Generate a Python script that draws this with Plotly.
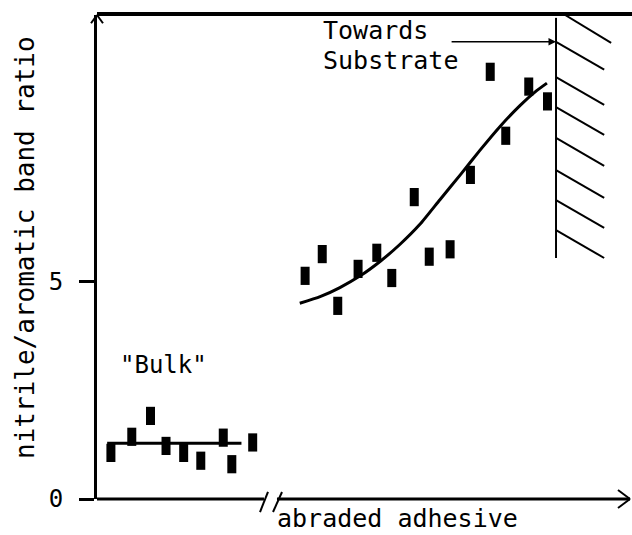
import plotly.graph_objects as go

# ---- data ----
bulk_x = [2.6, 6.5, 10.0, 12.9, 16.2, 19.4, 23.6, 25.2, 29.1]
bulk_y = [1.06, 1.43, 1.91, 1.22, 1.06, 0.88, 1.41, 0.80, 1.30]
bulk_fit_x = [1.9, 27.0]
bulk_fit_y = [1.28, 1.28]

adh_x = [38.9, 42.1, 45.0, 48.8, 52.3, 55.1, 59.3, 62.1, 66.0, 69.8, 73.5, 76.4, 80.7, 84.2]
adh_y = [5.13, 5.63, 4.44, 5.29, 5.66, 5.08, 6.94, 5.57, 5.74, 7.45, 9.82, 8.35, 9.48, 9.14]

fit_x = [37.9, 41.7, 45.4, 49.2, 52.9, 56.6, 60.4, 64.1, 67.9, 71.6, 75.3, 79.1, 81.9, 84.1]
fit_y = [4.50, 4.65, 4.86, 5.13, 5.46, 5.85, 6.32, 6.88, 7.45, 8.02, 8.56, 9.05, 9.36, 9.56]

y_ticks = [0, 5]
y_ticktext = ["0", "5"]
y_max = 11.126
x_max = 100

wall_x = 85.8
wall_y = [5.54, 11.06]
arrow_tail_x = 66.0
arrow_y = 10.51
hatch_starts = [10.51, 9.70, 9.01, 8.30, 7.56, 6.87, 6.18]
hatch_dx, hatch_dy = 9.0, -0.64

FONT = "DejaVu Sans Mono"
marker_style = dict(symbol="line-ns", size=13, line=dict(width=9, color="black"), color="black")

fig = go.Figure()
fig.add_trace(go.Scatter(x=bulk_fit_x, y=bulk_fit_y, mode="lines",
                         line=dict(color="black", width=3), hoverinfo="skip"))
fig.add_trace(go.Scatter(x=fit_x, y=fit_y, mode="lines",
                         line=dict(color="black", width=3, shape="spline", smoothing=0.5),
                         hoverinfo="skip"))
fig.add_trace(go.Scatter(x=bulk_x, y=bulk_y, mode="markers", marker=marker_style))
fig.add_trace(go.Scatter(x=adh_x, y=adh_y, mode="markers", marker=marker_style))

shapes = []
def pline(x0, y0, x1, y1, w=3, ref="paper"):
    xr = "paper" if ref == "paper" else "x"
    yr = "paper" if ref == "paper" else "y"
    shapes.append(dict(type="line", xref=xr, yref=yr, x0=x0, y0=y0, x1=x1, y1=y1,
                       line=dict(color="black", width=w), layer="above"))

# frame: top border, y-axis arrow cap, broken x-axis with arrow
pline(0, 1.002, 1, 1.002, w=4)
pline(-0.0112, 0.983, 0, 1.0, w=2)
pline(0, 1.0, 0.0112, 0.983, w=2)
pline(0, 0, 0.3121, 0, w=3)
pline(0.3364, 0, 0.9963, 0, w=3)
pline(0.3047, -0.0269, 0.3196, 0.0145, w=2)
pline(0.3290, -0.0269, 0.3458, 0.0145, w=2)
pline(0.9738, 0.0186, 0.9963, 0, w=2)
pline(0.9738, -0.0186, 0.9963, 0, w=2)

# substrate wall with hatching
pline(wall_x, wall_y[0], wall_x, wall_y[1], w=2, ref="data")
for ys in hatch_starts:
    pline(wall_x, ys, wall_x + hatch_dx, ys + hatch_dy, w=2, ref="data")
pline(wall_x + 1.7, y_max, wall_x + 1.7 + 8.6, y_max - 0.64, w=2, ref="data")

annotations = [
    dict(text="nitrile/aromatic band ratio", xref="paper", yref="paper", x=-0.1346, y=0.5207,
         textangle=-90, showarrow=False, xanchor="center", yanchor="middle",
         font=dict(family=FONT, size=26, color="black")),
    dict(text="abraded adhesive", xref="paper", yref="paper", x=0.5626, y=-0.0413,
         showarrow=False, xanchor="center", yanchor="middle",
         font=dict(family=FONT, size=25, color="black")),
    dict(text='"Bulk"', xref="x", yref="y", x=12.5, y=3.08, showarrow=False,
         xanchor="center", yanchor="middle", font=dict(family=FONT, size=24, color="black")),
    dict(text="Towards", xref="x", yref="y", x=41.8, y=10.76, showarrow=False,
         xanchor="left", yanchor="middle", font=dict(family=FONT, size=25, color="black")),
    dict(text="Substrate", xref="x", yref="y", x=41.8, y=10.07, showarrow=False,
         xanchor="left", yanchor="middle", font=dict(family=FONT, size=25, color="black")),
    dict(text="", xref="x", yref="y", x=wall_x, y=arrow_y, axref="x", ayref="y",
         ax=arrow_tail_x, ay=arrow_y, showarrow=True, arrowhead=2, arrowsize=1,
         arrowwidth=1.5, arrowcolor="black", standoff=0),
]

fig.update_layout(
    width=632, height=535,
    margin=dict(l=97, r=0, t=15, b=36),
    plot_bgcolor="white", paper_bgcolor="white",
    showlegend=False,
    font=dict(family=FONT, size=24, color="black"),
    xaxis=dict(range=[0, x_max], visible=False, showgrid=False, zeroline=False),
    yaxis=dict(range=[0, y_max], tickvals=y_ticks, ticktext=y_ticktext,
               ticks="outside", ticklen=15, tickwidth=3, tickcolor="black",
               showline=True, linewidth=3, linecolor="black",
               showgrid=False, zeroline=False, ticklabelstandoff=11,
               tickfont=dict(family=FONT, size=24, color="black")),
    shapes=shapes,
    annotations=annotations,
)

fig.write_html("out.html")
